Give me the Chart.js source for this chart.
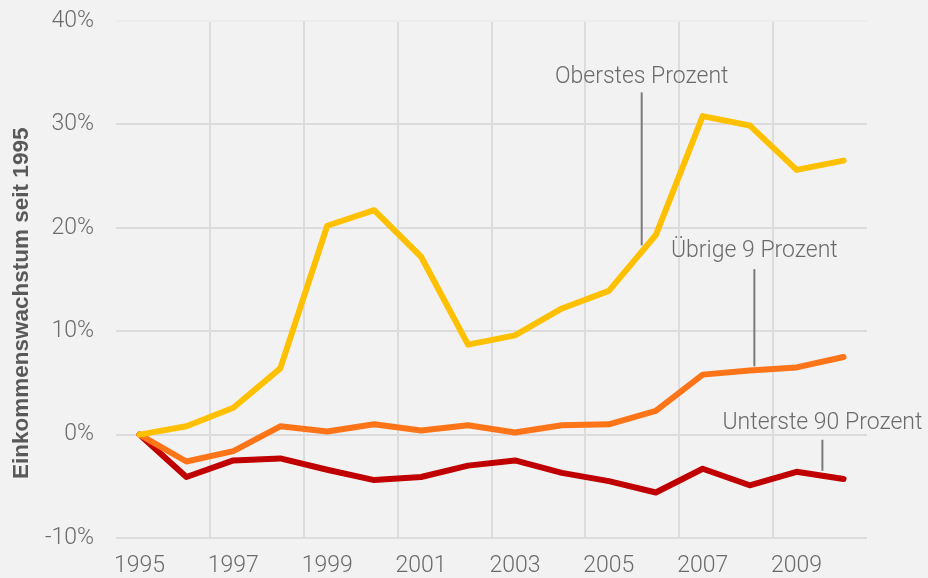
<!DOCTYPE html>
<html>
<head>
<meta charset="utf-8">
<script src="https://cdn.jsdelivr.net/npm/chart.js@4.4.1/dist/chart.umd.min.js"></script>
<style>
    html, body { margin: 0; padding: 0; background: #f2f2f2; }
    .wrap { width: 928px; height: 578px; position: relative; }
</style>
</head>
<body>
<div class="wrap"><canvas id="lineChart"></canvas></div>
<script>
const years = [1995, 1996, 1997, 1998, 1999, 2000, 2001, 2002, 2003, 2004, 2005, 2006, 2007, 2008, 2009, 2010];
const topOne = [0, 0.8, 2.6, 6.4, 20.2, 21.7, 17.2, 8.7, 9.6, 12.2, 13.9, 19.3, 30.8, 29.9, 25.6, 26.5];
const nextNine = [0, -2.6, -1.6, 0.8, 0.3, 1.0, 0.4, 0.9, 0.2, 0.9, 1.0, 2.3, 5.8, 6.2, 6.5, 7.5];
const bottomNinety = [0, -4.1, -2.5, -2.3, -3.4, -4.4, -4.1, -3.0, -2.5, -3.7, -4.5, -5.6, -3.3, -4.9, -3.6, -4.3];
const yearTicks = [1995, 1997, 1999, 2001, 2003, 2005, 2007, 2009];
const gridYears = [1996.5, 1998.5, 2000.5, 2002.5, 2004.5, 2006.5, 2008.5];
const yTicks = [-10, 0, 10, 20, 30, 40];

const seriesNames = ['Oberstes Prozent', 'Übrige 9 Prozent', 'Unterste 90 Prozent'];

// label text + leader line, in data coordinates
const callouts = [
    { text: seriesNames[0], x: 2005.7, y: 34.6, lineFrom: 33.1, lineTo: 18.3 },
    { text: seriesNames[1], x: 2008.1, y: 17.7, lineFrom: 16.0, lineTo: 6.6 },
    { text: seriesNames[2], x: 2009.55, y: 1.1, lineFrom: -0.5, lineTo: -3.5 }
];

const tickFont = { family: 'Roboto, "Liberation Sans", sans-serif', size: 23, weight: 300 };
const textGray = '#6b6b6b';
const gridGray = '#dcdcdc';

const calloutPlugin = {
    id: 'callouts',
    afterDatasetsDraw(chart) {
        const { ctx, scales: { x, y } } = chart;
        ctx.save();
        ctx.font = '300 23px Roboto, "Liberation Sans", sans-serif';
        ctx.fillStyle = textGray;
        ctx.textAlign = 'center';
        ctx.textBaseline = 'middle';
        callouts.forEach(c => {
            const px = x.getPixelForValue(c.x);
            ctx.fillText(c.text, px, y.getPixelForValue(c.y));
            ctx.strokeStyle = '#7a7a7a';
            ctx.lineWidth = 2;
            ctx.beginPath();
            ctx.moveTo(px, y.getPixelForValue(c.lineFrom));
            ctx.lineTo(px, y.getPixelForValue(c.lineTo));
            ctx.stroke();
        });

        // y axis title
        ctx.translate(22, y.getPixelForValue(12.7));
        ctx.rotate(-Math.PI / 2);
        ctx.font = 'bold 22.5px "Liberation Sans", Arial, sans-serif';
        ctx.fillStyle = '#595959';
        ctx.fillText('Einkommenswachstum seit 1995', 0, 0);
        ctx.restore();
    }
};

function makeSeries(label, values, color) {
    return {
        label: label,
        data: years.map((yr, i) => ({ x: yr, y: values[i] })),
        borderColor: color,
        backgroundColor: color,
        borderWidth: 6,
        pointRadius: 0,
        tension: 0,
        fill: false,
        borderJoinStyle: 'round',
        borderCapStyle: 'round'
    };
}

new Chart(document.getElementById('lineChart'), {
    type: 'line',
    data: {
        datasets: [
            makeSeries(seriesNames[0], topOne, '#ffc000'),
            makeSeries(seriesNames[1], nextNine, '#fd7518'),
            makeSeries(seriesNames[2], bottomNinety, '#c00000')
        ]
    },
    options: {
        responsive: true,
        maintainAspectRatio: false,
        animation: false,
        layout: { padding: { top: 21, right: 61, left: 0, bottom: 0 } },
        plugins: {
            legend: { display: false },
            tooltip: { enabled: false }
        },
        scales: {
            x: {
                type: 'linear',
                min: 1994.5,
                max: 2010.5,
                afterBuildTicks: scale => { scale.ticks = yearTicks.map(v => ({ value: v })); },
                afterFit: scale => { scale.height = 40; },
                grid: { display: false, drawTicks: false },
                border: { display: false },
                ticks: {
                    font: tickFont,
                    color: textGray,
                    padding: 14,
                    maxRotation: 0,
                    callback: v => String(v)
                }
            },
            xGrid: {
                type: 'linear',
                position: 'bottom',
                min: 1994.5,
                max: 2010.5,
                afterBuildTicks: scale => { scale.ticks = gridYears.map(v => ({ value: v })); },
                afterFit: scale => { scale.height = 0; },
                grid: { color: gridGray, lineWidth: 2, drawTicks: false },
                border: { display: false },
                ticks: { display: false }
            },
            y: {
                min: -10,
                max: 40,
                afterBuildTicks: scale => { scale.ticks = yTicks.map(v => ({ value: v })); },
                afterFit: scale => {
                    scale.width = 116;
                    scale.paddingTop = 0;
                    scale.paddingBottom = 0;
                },
                grid: {
                    color: ctx => ctx.tick && ctx.tick.value === 40 ? '#ececec' : gridGray,
                    lineWidth: 2,
                    drawTicks: false
                },
                border: { display: false },
                ticks: {
                    font: tickFont,
                    color: textGray,
                    padding: 22,
                    callback: v => v + '%'
                }
            }
        }
    },
    plugins: [calloutPlugin]
});
</script>
</body>
</html>
